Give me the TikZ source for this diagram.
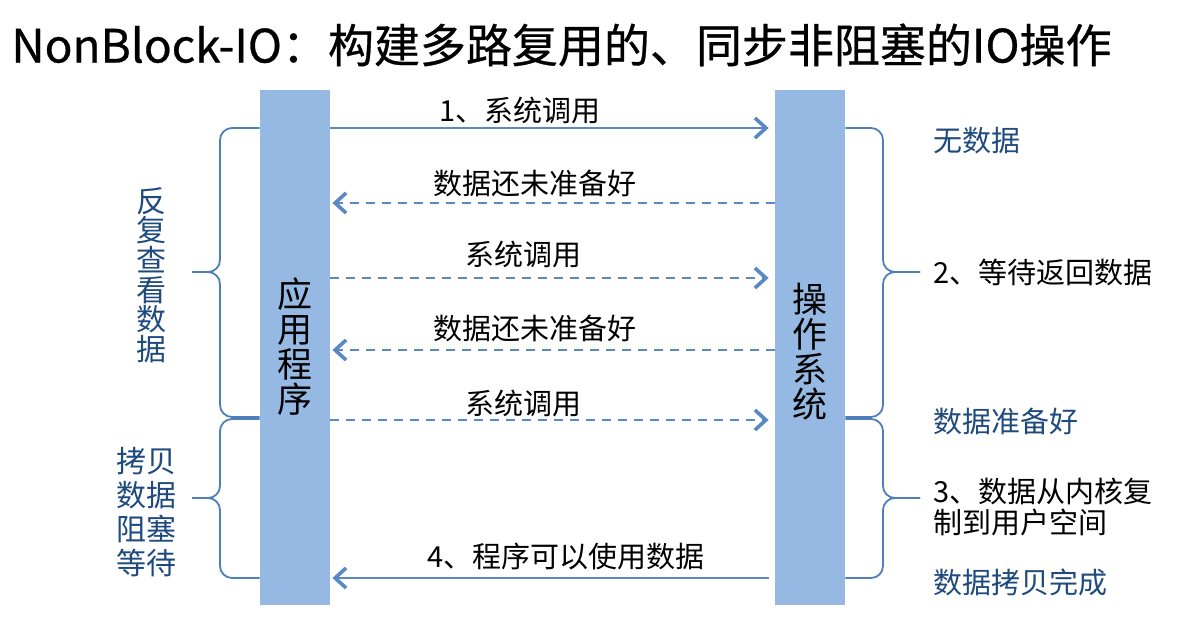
\documentclass[tikz,border=0pt]{standalone}
\usepackage{fontspec}
\setmainfont{Noto Sans CJK SC}
\newfontfamily\titlefont[FakeBold=0.6]{Noto Sans CJK SC}
\usetikzlibrary{arrows.meta}
\definecolor{barfill}{HTML}{95B9E3}
\definecolor{arrowc}{HTML}{5A88C4}
\definecolor{bracec}{HTML}{4F7FBA}
\definecolor{bluetext}{HTML}{1F4A7E}
\tikzset{
  bar/.style={rectangle, fill=barfill, minimum width=35pt, minimum height=257.5pt, inner sep=0pt},
  bartext/.style={font=\fontsize{17.5pt}{17.5pt}\selectfont, align=center},
  call/.style={draw=arrowc, line width=1.1pt, -{Straight Barb[length=5.5pt,width=10pt,line width=1.8pt]}},
  dashcall/.style={call, dash pattern=on 4.5pt off 3.5pt},
  lbl/.style={font=\fontsize{14.5pt}{15.5pt}\selectfont, inner sep=0pt},
  brace/.style={draw=bracec, line width=0.9pt, rounded corners=6pt},
  bluelbl/.style={lbl, text=bluetext, anchor=west},
  blacklbl/.style={lbl, text=black, anchor=west, align=left}
}
\begin{document}
\begin{tikzpicture}[x=0.5pt, y=-0.5pt]
\useasboundingbox (0,0) rectangle (1194,627);
% title
\node[anchor=west, inner sep=0pt, font=\titlefont\fontsize{23pt}{23pt}\selectfont] (title) at (11,45) {NonBlock-IO：构建多路复用的、同步非阻塞的IO操作};
% bars
\node[bar] (app) at (295,347.5) {};
\node[bar] (os) at (810,347.5) {};
\node[bartext] (apptxt) at (295,347) {应\\用\\程\\序};
\node[bartext] (ostxt) at (810,352) {操\\作\\系\\统};
% arrows
\draw[call] (app.east |- 0,128) -- ([xshift=-3pt]os.west |- 0,128);
\node[lbl] (l1) at (520,110) {1、系统调用};
\draw[dashcall] (os.west |- 0,203) -- ([xshift=1pt]app.east |- 0,203);
\node[lbl] (l2) at (535,183) {数据还未准备好};
\draw[dashcall] (app.east |- 0,278) -- ([xshift=-3pt]os.west |- 0,278);
\node[lbl] (l3) at (523,254) {系统调用};
\draw[dashcall] (os.west |- 0,350) -- ([xshift=1pt]app.east |- 0,350);
\node[lbl] (l4) at (535,328) {数据还未准备好};
\draw[dashcall] (app.east |- 0,420) -- ([xshift=-3pt]os.west |- 0,420);
\node[lbl] (l5) at (523,403) {系统调用};
\draw[call] ([xshift=-3pt]os.west |- 0,578) -- ([xshift=1pt]app.east |- 0,578);
\node[lbl] (l6) at (566,556) {4、程序可以使用数据};
% left braces
\coordinate (lt1) at (192,272);
\coordinate (lt2) at (192,498);
\draw[brace] (app.west |- 0,128) -- (220,128) -- (220,272) -- (lt1);
\draw[brace] (app.west |- 0,417) -- (220,417) -- (220,272) -- (lt1);
\draw[brace] (app.west |- 0,419) -- (220,419) -- (220,498) -- (lt2);
\draw[brace] (app.west |- 0,578) -- (220,578) -- (220,498) -- (lt2);
% right braces
\coordinate (rt1) at (920,272);
\coordinate (rt2) at (920,498);
\draw[brace] (os.east |- 0,128) -- (883,128) -- (883,272) -- (rt1);
\draw[brace] (os.east |- 0,417) -- (883,417) -- (883,272) -- (rt1);
\draw[brace] (os.east |- 0,419) -- (883,419) -- (883,498) -- (rt2);
\draw[brace] (os.east |- 0,578) -- (883,578) -- (883,498) -- (rt2);
% left texts
\node[lbl, text=bluetext, align=center, font=\fontsize{15pt}{14.8pt}\selectfont] (lb1) at (151,275) {反\\复\\查\\看\\数\\据};
\node[lbl, text=bluetext, align=center, font=\fontsize{15pt}{17pt}\selectfont] (lb2) at (146,512) {拷贝\\数据\\阻塞\\等待};
% right texts
\node[bluelbl] (r1) at (933,141) {无数据};
\node[blacklbl] (r2) at (933,272) {2、等待返回数据};
\node[bluelbl] (r3) at (933,421) {数据准备好};
\node[blacklbl] (r4) at (933,507) {3、数据从内核复\\制到用户空间};
\node[bluelbl] (r5) at (933,582) {数据拷贝完成};
\end{tikzpicture}
\end{document}
